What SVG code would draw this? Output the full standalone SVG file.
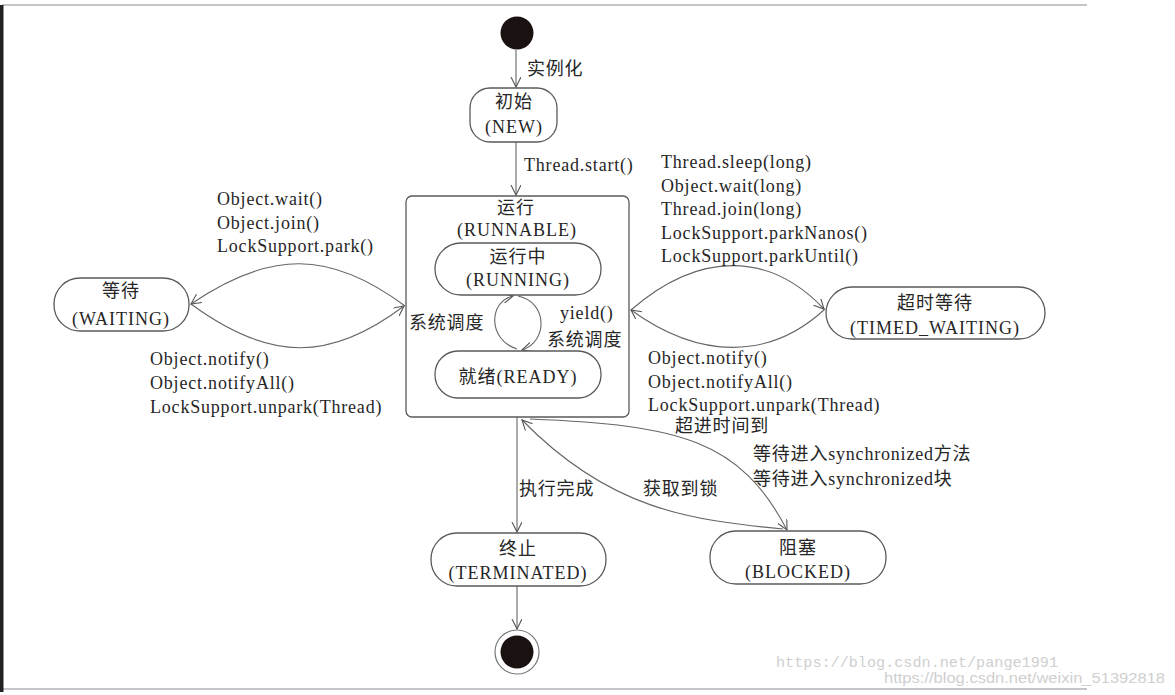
<svg xmlns="http://www.w3.org/2000/svg" width="1175" height="695" viewBox="0 0 1175 695">
<defs>
<marker id="arr" markerUnits="userSpaceOnUse" markerWidth="12" markerHeight="12" refX="10" refY="5" orient="auto">
<path d="M0,0 L10,5 L0,10" fill="none" stroke="#555" stroke-width="1.1"/>
</marker>
<style>
.t{font-family:"Liberation Serif","Noto Sans CJK SC",serif;font-size:18px;fill:#262626;letter-spacing:0.8px}
.n{text-anchor:middle;letter-spacing:1px}
.box{fill:#fff;stroke:#5a5a5a;stroke-width:1.3}
.ln{fill:none;stroke:#666;stroke-width:1.1}
.wm1{font-family:"Liberation Mono",monospace;font-size:14px;fill:#cfcfcf}
.wm2{font-family:"Liberation Sans",sans-serif;font-size:14px;fill:#cfcfcf}
</style>
</defs>
<rect width="1175" height="695" fill="#fff"/>
<g id="frame">
<line x1="2" y1="5" x2="1087" y2="5" stroke="#c6c6c6" stroke-width="2"/>
<line x1="2" y1="689" x2="1087" y2="689" stroke="#c6c6c6" stroke-width="2"/>
<rect x="0" y="5" width="3.5" height="687" fill="#222"/>
</g>
<g id="connectors">
<path class="ln" d="M516 50 L516 87" marker-end="url(#arr)"/>
<path class="ln" d="M516 142 L516 195" marker-end="url(#arr)"/>
<path class="ln" d="M405 306 C330 250 270 250 191 304" marker-end="url(#arr)"/>
<path class="ln" d="M191 304 C270 362 330 362 404 306" marker-end="url(#arr)"/>
<path class="ln" d="M631 310 C700 250 770 252 824 309" marker-end="url(#arr)"/>
<path class="ln" d="M825 309 C770 360 700 360 631 310" marker-end="url(#arr)"/>
<path class="ln" d="M517 349 C488 340 488 302 513 296" marker-end="url(#arr)"/>
<path class="ln" d="M518 296 C548 302 548 342 522 350" marker-end="url(#arr)"/>
<path class="ln" d="M517 417 L517 532" marker-end="url(#arr)"/>
<path class="ln" d="M517 586 L517 629" marker-end="url(#arr)"/>
<path class="ln" d="M530 419 C680 425 740 440 787 530" marker-end="url(#arr)"/>
<path class="ln" d="M783 529 C690 520 610 510 522 420" marker-end="url(#arr)"/>
</g>
<g id="labels">
<text class="t" x="527" y="75">实例化</text>
<text class="t" x="524" y="171">Thread.start()</text>
<text class="t" x="217" y="205">Object.wait()</text>
<text class="t" x="217" y="228.5">Object.join()</text>
<text class="t" x="217" y="252">LockSupport.park()</text>
<text class="t" x="150" y="365">Object.notify()</text>
<text class="t" x="150" y="389">Object.notifyAll()</text>
<text class="t" x="150" y="413">LockSupport.unpark(Thread)</text>
<text class="t" x="661" y="168">Thread.sleep(long)</text>
<text class="t" x="661" y="191.5">Object.wait(long)</text>
<text class="t" x="661" y="215">Thread.join(long)</text>
<text class="t" x="661" y="238.5">LockSupport.parkNanos()</text>
<text class="t" x="661" y="262">LockSupport.parkUntil()</text>
<text class="t" x="648" y="364">Object.notify()</text>
<text class="t" x="648" y="388">Object.notifyAll()</text>
<text class="t" x="648" y="411">LockSupport.unpark(Thread)</text>
<text class="t" x="409" y="329">系统调度</text>
<text class="t" x="560" y="319">yield()</text>
<text class="t" x="547" y="346">系统调度</text>
<text class="t" x="675" y="432">超进时间到</text>
<text class="t" x="753" y="460">等待进入synchronized方法</text>
<text class="t" x="753" y="485">等待进入synchronized块</text>
<text class="t" x="519" y="495">执行完成</text>
<text class="t" x="643" y="495">获取到锁</text>
</g>
<g id="start">
<circle cx="517" cy="33" r="16.5" fill="#1a1211"/>
</g>
<g id="new">
<rect class="box" x="470" y="88" width="87" height="54" rx="20"/>
<text class="t n" x="514" y="108">初始</text>
<text class="t n" x="514" y="133">(NEW)</text>
</g>
<g id="runnable">
<rect x="406" y="196" width="223" height="221" rx="6" fill="none" stroke="#5a5a5a" stroke-width="1.3"/>
<text class="t n" x="516" y="214">运行</text>
<text class="t n" x="517" y="236">(RUNNABLE)</text>
</g>
<g id="running">
<rect class="box" x="435" y="243" width="166" height="52" rx="26"/>
<text class="t n" x="518" y="263">运行中</text>
<text class="t n" x="518" y="286">(RUNNING)</text>
</g>
<g id="ready">
<rect class="box" x="435" y="351" width="166" height="47" rx="23"/>
<text class="t n" x="518" y="383">就绪(READY)</text>
</g>
<g id="waiting">
<rect class="box" x="54" y="278" width="135" height="53" rx="26"/>
<text class="t n" x="121" y="297">等待</text>
<text class="t n" x="121" y="325">(WAITING)</text>
</g>
<g id="timed_waiting">
<rect class="box" x="826" y="287" width="219" height="52" rx="26"/>
<text class="t n" x="935" y="309">超时等待</text>
<text class="t n" x="935" y="334">(TIMED_WAITING)</text>
</g>
<g id="terminated">
<rect class="box" x="431" y="533" width="175" height="53" rx="26"/>
<text class="t n" x="518" y="555">终止</text>
<text class="t n" x="518" y="579">(TERMINATED)</text>
</g>
<g id="blocked">
<rect class="box" x="710" y="531" width="176" height="53" rx="26"/>
<text class="t n" x="798" y="554">阻塞</text>
<text class="t n" x="798" y="578">(BLOCKED)</text>
</g>
<g id="end">
<circle cx="517" cy="652" r="22" fill="#fff" stroke="#777" stroke-width="1.2"/>
<circle cx="517" cy="652" r="16.5" fill="#1a1211"/>
</g>
<g id="watermark">
<text class="wm1" x="776" y="667" textLength="282" lengthAdjust="spacingAndGlyphs">https://blog.csdn.net/pange1991</text>
<text class="wm2" x="884" y="683" textLength="281" lengthAdjust="spacingAndGlyphs">https://blog.csdn.net/weixin_51392818</text>
</g>
</svg>
